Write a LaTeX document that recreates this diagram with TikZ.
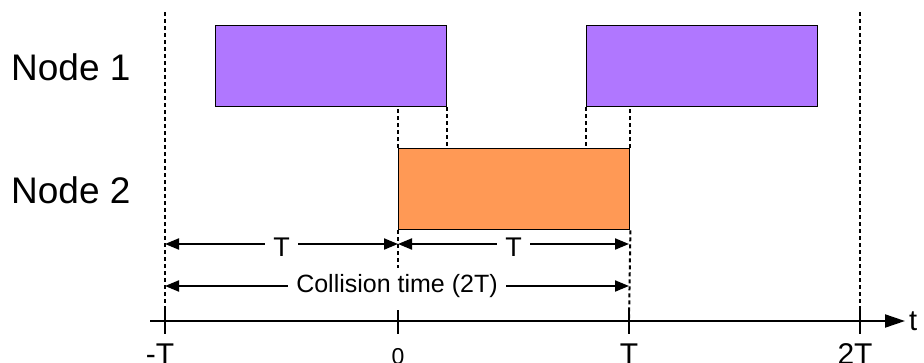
\documentclass[tikz,border=0pt]{standalone}
\usepackage{fontspec}
\setmainfont{Liberation Sans}
\usetikzlibrary{arrows.meta, positioning, calc}
\definecolor{slotpurple}{RGB}{176,119,255}
\definecolor{slotorange}{RGB}{255,153,85}

\begin{document}
\begin{tikzpicture}[x=1pt, y=-1pt,
        slot/.style={rectangle, draw=black, line width=1.4pt, minimum width=231pt, minimum height=81pt, inner sep=0pt, anchor=north west},
        guide/.style={line width=2pt, dash pattern=on 4pt off 3pt},
        span/.style={line width=2pt, {Triangle[length=14pt,width=11pt]}-{Triangle[length=14pt,width=11pt]}},
        spanlabel/.style={fill=white, inner xsep=8pt, inner ysep=1pt},
        rowlabel/.style={anchor=west, inner sep=0pt, font=\fontsize{37}{37}\selectfont},
        ticklabel/.style={anchor=base, inner sep=0pt, font=\fontsize{30}{30}\selectfont}
    ]
        \useasboundingbox (0,0) rectangle (924,362);

        % time axis
        \coordinate (tm) at (165,321);
        \coordinate (t0) at (398,321);
        \coordinate (tT) at (629,321);
        \coordinate (t2) at (860,321);
        \draw[line width=2pt, -{Triangle[length=20pt,width=13pt]}] (150,321) -- (905,321) node[right=3pt, inner sep=0pt, font=\fontsize{29}{29}\selectfont] {t};
        \foreach \p in {tm,t0,tT,t2}
            \draw[line width=2pt] ($(\p)+(0,-11)$) -- ($(\p)+(0,13)$);
        \node[ticklabel] at (160,364) {-T};
        \node[ticklabel, font=\fontsize{23}{23}\selectfont] at (398,364) {0};
        \node[ticklabel] at (629,364) {T};
        \node[ticklabel] at (855,364) {2T};

        % transmissions
        \node[slot, fill=slotpurple] (n1a) at (215,25) {};
        \node[slot, fill=slotpurple] (n1b) at (586,25) {};
        \node[slot, fill=slotorange] (n2) at (398,148) {};
        \node[rowlabel] (lab1) at (11,67) {Node 1};
        \node[rowlabel] (lab2) at (11,190) {Node 2};

        % guides
        \draw[guide] (165,12) -- (tm);
        \draw[guide] (860,12) -- (t2);
        \draw[guide] (n2.north west) -- (n2.north west |- n1a.south);
        \draw[guide] (n1a.south east) -- (n1a.south east |- n2.north);
        \draw[guide] (n1b.south west) -- (n1b.south west |- n2.north);
        \draw[guide] (n2.north east) -- (n2.north east |- n1b.south);
        \draw[guide] (n2.south west) -- ++(0,38);
        \draw[guide] (n2.south east) -- (tT);

        % spans
        \coordinate (s1) at (165,244);
        \coordinate (s2) at (398,244);
        \coordinate (s3) at (629,244);
        \coordinate (c1) at (165,286);
        \coordinate (c2) at (629,286);
        \draw[span] (s1) -- node[spanlabel, yshift=-3pt, font=\fontsize{27}{27}\selectfont] {T} (s2);
        \draw[span] (s2) -- node[spanlabel, yshift=-3pt, font=\fontsize{27}{27}\selectfont] {T} (s3);
        \draw[span] (c1) -- node[spanlabel, font=\fontsize{25}{25}\selectfont] {Collision time (2T)} (c2);
    \end{tikzpicture}
\end{document}
